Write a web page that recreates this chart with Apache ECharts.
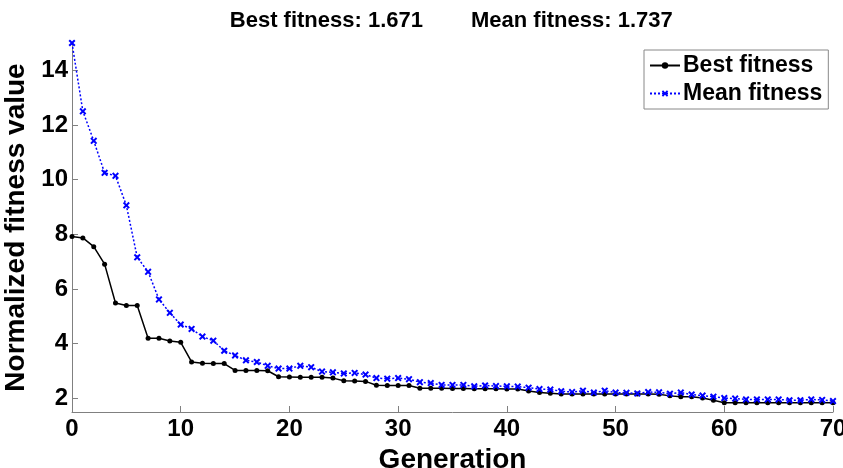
<!DOCTYPE html>
<html><head><meta charset="utf-8">
<script src="https://cdn.jsdelivr.net/npm/echarts@6/dist/echarts.min.js"></script>
<style>html,body{margin:0;padding:0;background:#fff}#c{width:843px;height:468px}</style>
</head><body><div id="c"></div>
<script>
var generations = [];
for (var g = 0; g <= 70; g++) generations.push(g);
var bestFitness = [7.92,7.87,7.55,6.91,5.49,5.40,5.40,4.20,4.20,4.10,
  4.05,3.33,3.28,3.27,3.27,3.02,3.02,3.02,3.01,2.79,
  2.78,2.77,2.77,2.77,2.74,2.64,2.63,2.62,2.48,2.47,
  2.47,2.47,2.37,2.37,2.37,2.36,2.36,2.35,2.35,2.35,
  2.34,2.34,2.27,2.21,2.19,2.16,2.16,2.16,2.16,2.16,
  2.16,2.16,2.16,2.16,2.15,2.09,2.06,2.06,2.01,1.93,
  1.84,1.84,1.84,1.84,1.84,1.84,1.84,1.84,1.84,1.84,1.84];
var meanFitness = [15.0,12.5,11.42,10.25,10.14,9.06,7.16,6.63,5.62,5.13,
  4.70,4.54,4.26,4.11,3.74,3.57,3.39,3.33,3.19,3.09,
  3.09,3.19,3.14,2.98,2.95,2.91,2.93,2.87,2.74,2.72,
  2.74,2.70,2.59,2.56,2.49,2.49,2.49,2.44,2.47,2.45,
  2.44,2.43,2.39,2.34,2.32,2.26,2.23,2.28,2.21,2.28,
  2.21,2.20,2.18,2.23,2.22,2.17,2.21,2.14,2.10,2.06,
  2.01,1.99,1.96,1.96,1.96,1.96,1.93,1.93,1.96,1.94,1.90];
var xTicks = [0,10,20,30,40,50,60,70];
var yTicks = [2,4,6,8,10,12,14];
var seriesNames = ['Best fitness','Mean fitness'];
var titleLeft = 'Best fitness: 1.671';
var titleRight = 'Mean fitness: 1.737';

var FONT = 'Arial, "Liberation Sans", sans-serif';
var xShape = 'path://M2,0L5,3L8,0L10,2L7,5L10,8L8,10L5,7L2,10L0,8L3,5L0,2Z';
var chart = echarts.init(document.getElementById('c'), null, {renderer:'canvas'});
chart.setOption({
  animation: false,
  backgroundColor: '#fff',
  title: [
    {text: titleLeft, right: 415, top: 5, textStyle:{fontFamily:FONT, fontSize:22, fontWeight:'bold', color:'#000'}},
    {text: titleRight, left: 466, top: 5, textStyle:{fontFamily:FONT, fontSize:22, fontWeight:'bold', color:'#000'}}
  ],
  legend: {
    orient: 'vertical', left: 644, top: 50,
    padding: [4, 6, 4, 5], itemGap: 5, itemWidth: 30, itemHeight: 8,
    borderColor: '#888', borderWidth: 1, backgroundColor: '#fff',
    textStyle: {fontFamily: FONT, fontSize: 23, fontWeight: 'bold', color: '#000', padding:[0,0,0,-2]},
    data: seriesNames
  },
  grid: {left: 72, right: 10, top: 43, bottom: 56, containLabel: false, outerBoundsMode: 'none'},
  xAxis: {
    type: 'value', min: 0, max: 70, interval: 10,
    name: 'Generation', nameLocation: 'middle', nameGap: 23,
    nameTextStyle: {fontFamily: FONT, fontSize: 28, fontWeight: 'bold', color: '#000'},
    axisLine: {lineStyle: {color: '#808080', width: 1}},
    axisTick: {inside: true, length: 6, lineStyle: {color: '#808080'}, customValues: xTicks},
    axisLabel: {margin: 5, fontFamily: FONT, fontSize: 24, fontWeight: 'bold', color: '#000', customValues: xTicks},
    splitLine: {show: false}
  },
  yAxis: {
    type: 'value', min: 1.5, max: 15,
    name: 'Normalized fitness value', nameLocation: 'middle', nameGap: 31,
    nameTextStyle: {fontFamily: FONT, fontSize: 28, fontWeight: 'bold', color: '#000'},
    axisLine: {show: true, lineStyle: {color: '#808080', width: 1}},
    axisTick: {show: true, inside: true, length: 6, lineStyle: {color: '#808080'}, customValues: yTicks},
    axisLabel: {margin: 4, fontFamily: FONT, fontSize: 24, fontWeight: 'bold', color: '#000', customValues: yTicks},
    splitLine: {show: false}
  },
  series: [
    {
      name: seriesNames[0], type: 'line',
      data: generations.map(function(x, i){ return [x, bestFitness[i]]; }),
      symbol: 'circle', symbolSize: 5, showAllSymbol: true,
      itemStyle: {color: '#000'},
      lineStyle: {color: '#000', width: 1.5}
    },
    {
      name: seriesNames[1], type: 'line',
      data: generations.map(function(x, i){ return [x, meanFitness[i]]; }),
      symbol: xShape, symbolSize: 7, showAllSymbol: true,
      itemStyle: {color: '#0000ff'},
      lineStyle: {color: '#0000ff', width: 1.5, type: [2, 2]}
    }
  ]
});
</script></body></html>
